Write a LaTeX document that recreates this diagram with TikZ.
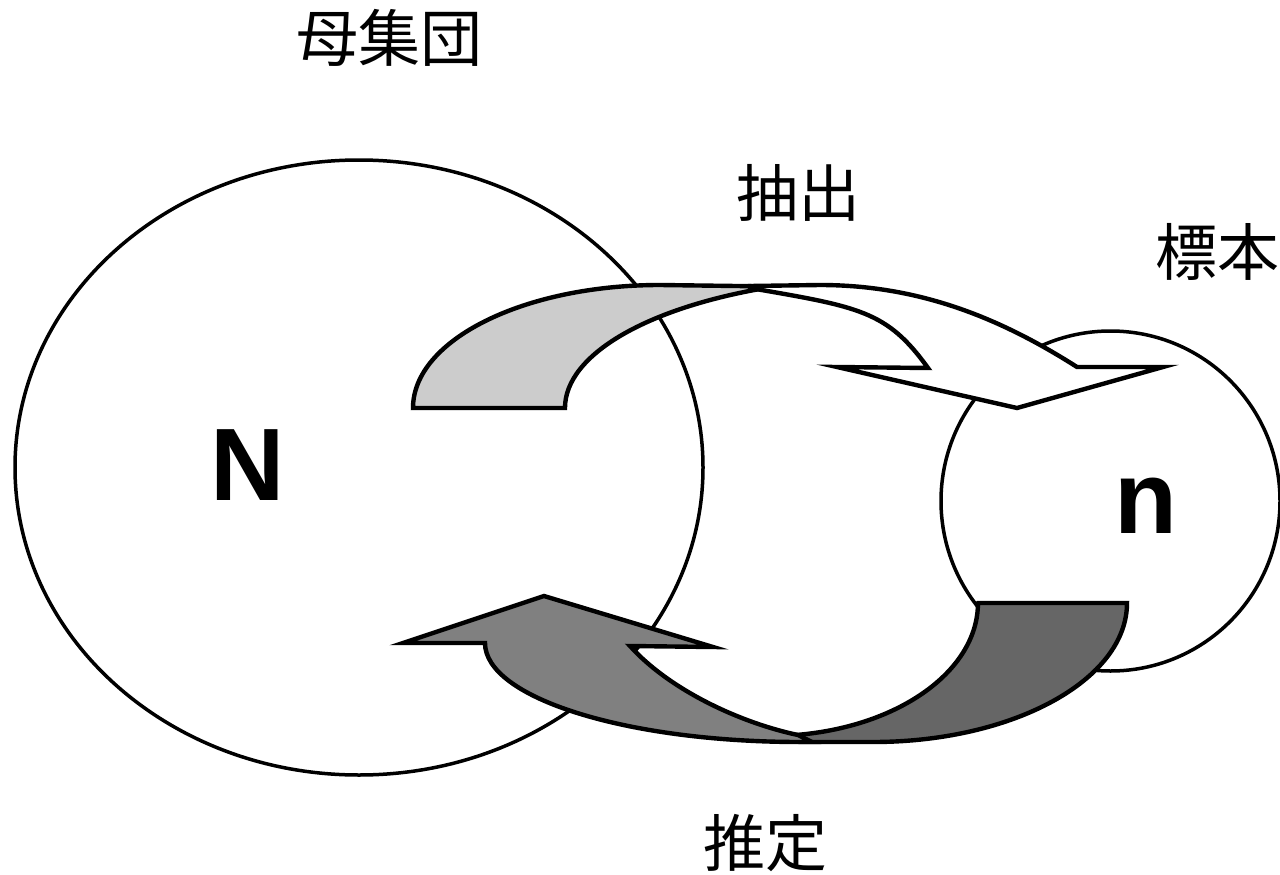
\documentclass[tikz,border=0pt]{standalone}
\usepackage{fontspec}
\newfontfamily\cjkfont{Noto Sans CJK JP}
\newfontfamily\latinfont{Liberation Sans}
\usetikzlibrary{shapes.geometric}
\definecolor{lightfill}{HTML}{CCCCCC}
\definecolor{midfill}{HTML}{808080}
\definecolor{darkfill}{HTML}{666666}
\begin{document}
\begin{tikzpicture}[x=1pt,y=-1pt,
  setring/.style={draw, line width=3.5pt, ellipse, inner sep=0pt, fill=white},
  arrowband/.style={draw, line width=4.4pt, line join=miter},
  cjklabel/.style={font=\cjkfont\fontsize{62}{70}\selectfont, inner sep=0pt},
  letterlabel/.style={font=\latinfont\bfseries\fontsize{103}{110}\selectfont, inner sep=0pt}]
\useasboundingbox (0,0) rectangle (1280,875);
% sets
\node[setring, minimum width=688pt, minimum height=615pt] (population) at (359,467.5) {};
\node[setring, minimum width=339pt, minimum height=340pt] (sample) at (1110.5,501) {};
% extraction arrow: back part
\draw[arrowband, fill=lightfill] (413,408)
  arc[start angle=180, end angle=90, x radius=247pt, y radius=123pt]
  -- (774.5,286.5)
  arc[start angle=112, end angle=180, x radius=335pt, y radius=131pt]
  -- cycle;
% extraction arrow: front part
\draw[arrowband, fill=white] (750,286) -- (820,285)
  .. controls (920,285) and (1001,318.6) .. (1077,367)
  -- (1163,367) -- (1017,408) -- (837,367) -- (928,368)
  .. controls (887,311) and (860,307) .. (750,288) -- cycle;
% estimation arrow: back part
\draw[arrowband, fill=darkfill] (978,603) -- (1127,603)
  arc[start angle=0, end angle=-90, x radius=254pt, y radius=139pt]
  -- (800,742) -- (797.1,734.9)
  arc[start angle=-82.5, end angle=0, x radius=208pt, y radius=133pt]
  -- cycle;
% estimation arrow: front part
\draw[arrowband, fill=midfill] (544,596) -- (713,647) -- (630,646)
  .. controls (670,690.4) and (741,723) .. (798,735)
  -- (812,742) -- (800,742)
  arc[start angle=270, end angle=180, x radius=315pt, y radius=99pt]
  -- (403,643) -- cycle;
% labels
\node[cjklabel] (poplabel) at (389,38) {母集団};
\node[cjklabel] (samplabel) at (1217,252) {標本};
\node[cjklabel] (drawlabel) at (798,193) {抽出};
\node[cjklabel] (estlabel) at (765,843) {推定};
\node[letterlabel] (bigN) at (248,465) {N};
\node[letterlabel] (smalln) at (1146,506) {n};
\end{tikzpicture}
\end{document}
